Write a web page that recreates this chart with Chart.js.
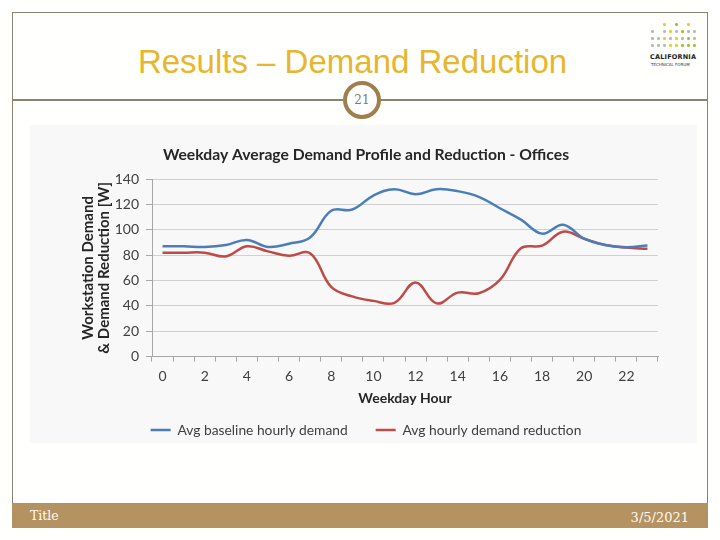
<!DOCTYPE html>
<html><head><meta charset="utf-8">
<script src="https://cdn.jsdelivr.net/npm/chart.js@4.4.1/dist/chart.umd.min.js"></script>
<style>
html,body{margin:0;padding:0;background:#fff;}
#slide{position:relative;width:720px;height:540px;overflow:hidden;background:#fffffd;font-family:'Liberation Sans',Arial,sans-serif;}
.frame{position:absolute;left:12px;top:12px;width:696px;height:516px;border:1.5px solid #8c8270;box-sizing:border-box;}
.hline{position:absolute;left:12px;top:99px;width:696px;height:1.5px;background:#8c8270;}
.title{position:absolute;left:0;width:705px;top:42px;text-align:center;font-size:33px;color:#e7b62e;line-height:40px;}
.circle{position:absolute;left:343px;top:81px;width:38px;height:38px;border:4px solid #9f7f4d;border-radius:50%;background:#fff;box-sizing:border-box;text-align:center;line-height:30px;font-family:'DejaVu Serif',serif;font-size:12px;color:#7a7a7a;}
.footer{position:absolute;left:12px;top:503px;width:696px;height:25px;background:#b59261;color:#fffaf0;font-family:'DejaVu Serif',serif;font-size:12.5px;}
.footer .l{position:absolute;left:18px;top:5px;}
.footer .r{position:absolute;right:19px;top:7px;font-size:13px;}
.chartbg{position:absolute;left:30px;top:125px;width:667px;height:318px;background:#f8f8f8;}
#wrap{position:absolute;left:30px;top:125px;width:667px;height:340px;}
.logo{position:absolute;left:648px;top:18px;width:50px;height:52px;}
.logo .d{position:absolute;width:2.5px;height:2.5px;border-radius:50%;}
.logo .t1{position:absolute;left:2px;top:35px;font-family:'DejaVu Sans',sans-serif;font-weight:bold;font-size:6.5px;color:#222;letter-spacing:0.2px;white-space:nowrap;}
.logo .t2{position:absolute;left:3px;top:44px;font-family:'DejaVu Sans',sans-serif;font-size:4px;color:#333;white-space:nowrap;}
</style></head>
<body>
<div id="slide">
  <div class="frame"></div>
  <div class="hline"></div>
  <div class="title">Results – Demand Reduction</div>
  <div class="circle">21</div>
  <div class="logo" id="logo"><div class="t1">CALIFORNIA</div><div class="t2">TECHNICAL FORUM</div></div>
  <div class="chartbg"></div>
  <div id="wrap"><canvas id="c" width="667" height="340"></canvas></div>
  <div class="footer"><span class="l">Title</span><span class="r">3/5/2021</span></div>
</div>
<script>
// ---- data ----
const hours = ['0','1','2','3','4','5','6','7','8','9','10','11','12','13','14','15','16','17','18','19','20','21','22','23'];
const baselineDemand = [87, 87, 86.5, 88, 92, 86.5, 89, 94, 115, 116, 127, 132, 128, 132, 130.5, 126, 117, 108, 97, 104, 93, 88, 86.3, 87.6];
const demandReduction = [82, 82, 82, 79, 87, 83, 79.5, 81.5, 55, 47.5, 44, 42.5, 58.5, 42, 50.5, 50, 60.5, 85.5, 87.5, 98.5, 93, 88, 86, 85];
const seriesNames = ['Avg baseline hourly demand', 'Avg hourly demand reduction'];
const yTicks = [0, 20, 40, 60, 80, 100, 120, 140];

// logo decoration
(function(){
  const logo = document.getElementById('logo');
  const rows = [
    ['', '', 'y', '', 'g', '', 'y', ''],
    ['s', '', 's', 'y', 's', 'g', 's', 's'],
    ['s', 's', 'y', 's', 'y', 's', 'g', 's'],
    ['s', 's', 's', 'y', 'y', 'g', 'g', 'g']
  ];
  const col = {s:'#b9b9b9', y:'#e3cf2a', g:'#9cc23e'};
  rows.forEach((r, ri) => r.forEach((c, ci) => {
    if (!c) return;
    const d = document.createElement('div');
    d.className = 'd';
    d.style.left = (3 + ci * 6) + 'px';
    d.style.top = (5 + ri * 7) + 'px';
    d.style.background = col[c];
    logo.appendChild(d);
  }));
})();

const FONT = 'Lato, "Open Sans", sans-serif';
new Chart(document.getElementById('c'), {
  type: 'line',
  data: {
    labels: hours,
    datasets: [
      {label: seriesNames[0], data: baselineDemand, borderColor: '#4a7ebb', backgroundColor: '#4a7ebb', borderWidth: 2.5, pointRadius: 0, tension: 0.4, fill: false},
      {label: seriesNames[1], data: demandReduction, borderColor: '#be4b48', backgroundColor: '#be4b48', borderWidth: 2.5, pointRadius: 0, tension: 0.4, fill: false}
    ]
  },
  options: {
    responsive: false,
    animation: false,
    layout: {padding: {left: 44, right: 39, top: 0, bottom: 18}},
    plugins: {
      title: {display: true, text: 'Weekday Average Demand Profile and Reduction - Offices', color: '#262626',
        font: {family: FONT, size: 15.7, weight: 'bold', lineHeight: 1.15}, padding: {top: 21, bottom: 15}},
      legend: {position: 'bottom', labels: {usePointStyle: true, pointStyle: 'line', pointStyleWidth: 20, boxHeight: 13,
        padding: 28, color: '#404040', font: {family: FONT, size: 13.8}}},
      tooltip: {enabled: false}
    },
    scales: {
      x: {
        offset: true,
        grid: {display: true, drawOnChartArea: false, drawTicks: true, tickLength: 5, offset: true, color: '#a6a6a6'},
        border: {color: '#a6a6a6', width: 1},
        ticks: {autoSkip: false, maxRotation: 0, padding: 6, color: '#404040', font: {family: FONT, size: 14},
          callback: function(v, i) { return i % 2 === 0 ? hours[i] : ''; }},
        title: {display: true, text: 'Weekday Hour', color: '#262626', font: {family: FONT, size: 14, weight: 'bold'}, padding: {top: 0, bottom: -12}},
        afterFit: function(s) { s.height = 38.5; }
      },
      y: {
        min: yTicks[0], max: yTicks[yTicks.length - 1],
        afterBuildTicks: function(s) { s.ticks = yTicks.map(v => ({value: v})); },
        grid: {color: '#d0d0d0', tickLength: 6, tickColor: '#a6a6a6'},
        border: {color: '#a6a6a6', width: 1},
        ticks: {padding: 7, color: '#404040', font: {family: FONT, size: 14}},
        title: {display: true, text: ['Workstation Demand', '& Demand Reduction [W]'], color: '#262626',
          font: {family: FONT, size: 15, weight: 'bold', lineHeight: 1.07}, padding: {top: 6, bottom: 0}},
        afterFit: function(s) { s.width = 78; }
      }
    }
  }
});
</script>
</body></html>
